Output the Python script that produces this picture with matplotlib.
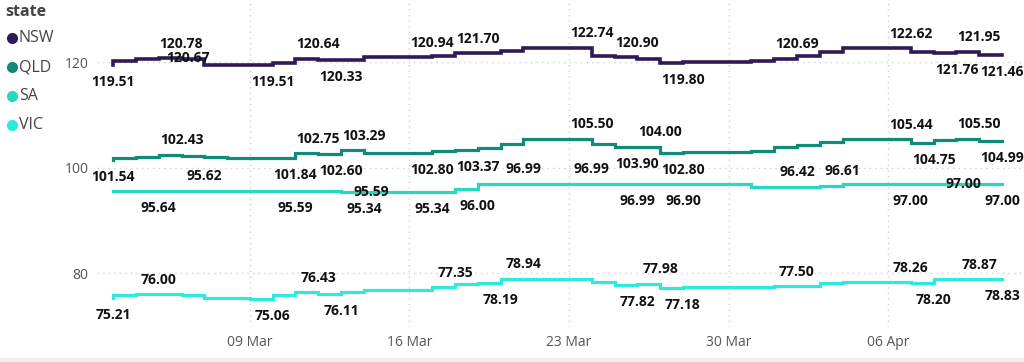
import numpy as np
import pandas as pd
import matplotlib
matplotlib.use("Agg")
import matplotlib.pyplot as plt
import matplotlib.dates as mdates
from matplotlib.lines import Line2D

plt.rcParams["font.family"] = ["Open Sans", "DejaVu Sans"]

START_DATE = "2025-03-03"

states = ["NSW", "QLD", "SA", "VIC"]
colors = {"NSW": "#2e1a55", "QLD": "#128a7a", "SA": "#27d8c0", "VIC": "#2eeadb"}

nsw = [119.51, 120.25, 120.57, 120.78, 120.67, 119.51, 119.51, 119.51, 119.94, 120.64,
       120.33, 120.40, 120.90, 120.90, 120.94, 121.20, 121.70, 121.70, 122.15, 122.74,
       122.74, 122.74, 121.10, 120.90, 120.70, 119.80, 120.06, 120.06, 120.06, 120.25,
       120.69, 121.14, 121.85, 122.62, 122.62, 122.62, 121.85, 121.76, 121.95, 121.46]
qld = [101.54, 101.77, 101.97, 102.43, 102.30, 101.97, 101.90, 101.85, 101.84, 102.75,
       102.60, 103.29, 102.80, 102.80, 102.80, 103.20, 103.37, 103.70, 104.50, 105.50,
       105.50, 105.50, 104.50, 103.90, 104.00, 102.80, 103.00, 103.00, 103.00, 103.20,
       104.00, 104.40, 104.80, 105.44, 105.44, 105.44, 104.75, 105.27, 105.50, 104.99]
sa = [95.64, 95.64, 95.64, 95.62, 95.62, 95.62, 95.59, 95.59, 95.59, 95.59,
      95.59, 95.34, 95.34, 95.34, 95.34, 95.34, 96.00, 96.99, 96.99, 96.99,
      96.99, 96.99, 96.99, 96.99, 96.99, 96.90, 96.90, 96.90, 96.90, 96.42,
      96.42, 96.42, 96.61, 97.00, 97.00, 97.00, 97.00, 97.00, 97.00, 97.00]
vic = [75.21, 75.94, 76.00, 76.10, 75.80, 75.30, 75.30, 75.06, 75.80, 76.43,
       76.11, 76.50, 76.90, 76.90, 76.90, 77.35, 78.00, 78.19, 78.94, 78.94,
       78.94, 78.94, 78.35, 77.82, 77.98, 77.18, 77.30, 77.30, 77.30, 77.30,
       77.50, 77.60, 78.15, 78.26, 78.26, 78.26, 78.20, 78.87, 78.87, 78.83]

# data labels: (day index, text, placement)
nsw_labels = [(0, "119.51", "below"), (3, "120.78", "above"), (3, "120.67", "mid"),
              (7, "119.51", "below"), (9, "120.64", "above"), (10, "120.33", "below"),
              (14, "120.94", "above"), (16, "121.70", "above"), (21, "122.74", "above"),
              (23, "120.90", "above"), (25, "119.80", "below"), (30, "120.69", "above"),
              (35, "122.62", "above"), (37, "121.76", "below"), (38, "121.95", "above"),
              (39, "121.46", "below")]
qld_labels = [(0, "101.54", "below"), (3, "102.43", "above"), (8, "101.84", "below"),
              (9, "102.75", "above"), (10, "102.60", "below"), (11, "103.29", "above"),
              (14, "102.80", "below"), (16, "103.37", "below"), (21, "105.50", "above"),
              (23, "103.90", "below"), (24, "104.00", "above"), (25, "102.80", "below"),
              (35, "105.44", "above"), (36, "104.75", "below"), (38, "105.50", "above"),
              (39, "104.99", "below")]
sa_labels = [(2, "95.64", "below"), (4, "95.62", "above"), (8, "95.59", "below"),
             (11, "95.34", "below"), (11, "95.59", "mid"), (14, "95.34", "below"),
             (16, "96.00", "below"), (18, "96.99", "above"), (21, "96.99", "above"),
             (23, "96.99", "below"), (25, "96.90", "below"), (30, "96.42", "above"),
             (32, "96.61", "above"), (35, "97.00", "below"), (37, "97.00", "mid"),
             (39, "97.00", "below")]
vic_labels = [(0, "75.21", "below"), (2, "76.00", "above"), (7, "75.06", "below"),
              (9, "76.43", "above"), (10, "76.11", "below"), (15, "77.35", "above"),
              (17, "78.19", "below"), (18, "78.94", "above"), (23, "77.82", "below"),
              (24, "77.98", "above"), (25, "77.18", "below"), (30, "77.50", "above"),
              (35, "78.26", "above"), (36, "78.20", "below"), (38, "78.87", "above"),
              (39, "78.83", "below")]

series = {"NSW": nsw, "QLD": qld, "SA": sa, "VIC": vic}
labels = {"NSW": nsw_labels, "QLD": qld_labels, "SA": sa_labels, "VIC": vic_labels}

y_ticks = [80, 100, 120]
x_ticks = ["2025-03-09", "2025-03-16", "2025-03-23", "2025-03-30", "2025-04-06"]

dates = pd.date_range(START_DATE, periods=len(nsw))

fig = plt.figure(figsize=(10.24, 3.62), dpi=100)
ax = fig.add_axes([97 / 1024, 1 - 327 / 362, 925 / 1024, 327 / 362])

# placement -> (dx px, dy px)
offsets = {"above": (0, 14.5), "below": (0, -17), "mid": (7, 0)}

for state in states:
    vals = series[state]
    ax.plot(dates, vals, drawstyle="steps-pre", color=colors[state],
            lw=2.6 if state == "NSW" else 2.3, solid_joinstyle="miter", zorder=3)
    for idx, txt, pos in labels[state]:
        dx, dy = offsets[pos]
        ax.annotate(txt, (dates[idx], vals[idx]), xytext=(dx * 0.72, dy * 0.72),
                    textcoords="offset points", ha="center", va="center",
                    fontsize=10, fontweight="bold", color="#111111", zorder=4)

ax.set_ylim(69.8, 131.8)
ax.set_xlim(dates[0] - pd.Timedelta(hours=17), dates[-1] + pd.Timedelta(hours=21))
ax.set_yticks(y_ticks)
ax.set_xticks(pd.to_datetime(x_ticks))
ax.xaxis.set_major_formatter(mdates.DateFormatter("%d %b"))
ax.tick_params(length=0, labelsize=10, labelcolor="#555555")
ax.tick_params(axis="x", pad=6)
ax.tick_params(axis="y", pad=6)
ax.grid(True, color="#d0d0d0", linestyle=(0, (1, 3)), linewidth=1)
ax.set_axisbelow(True)
for sp in ax.spines.values():
    sp.set_visible(False)

# legend drawn in figure pixels
fig.text(5 / 1024, 1 - 12 / 362, "state", fontsize=11.5, fontweight="bold",
         color="#444444", va="center", ha="left")
for k, state in enumerate(states):
    yc = 1 - (38 + 29 * k) / 362
    fig.add_artist(Line2D([12 / 1024], [yc], marker="o", markersize=7,
                          color=colors[state], transform=fig.transFigure))
    fig.text(19 / 1024, yc, state, fontsize=11.5, color="#444444",
             va="center", ha="left")

# thin grey band at the very bottom
fig.add_artist(plt.Rectangle((0, 0), 1, 4 / 362, transform=fig.transFigure,
                             color="#f0f0f0", zorder=0))

fig.savefig("out.png", dpi=100)
